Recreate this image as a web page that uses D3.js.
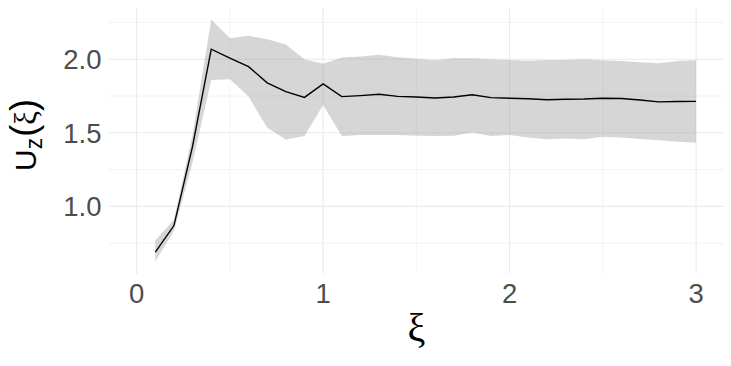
<!DOCTYPE html>
<html><head><meta charset="utf-8">
<script src="https://cdn.jsdelivr.net/npm/d3@7"></script>
<style>body{margin:0;background:#fff;}svg{display:block;}</style>
</head><body><svg id="c" width="731" height="366"></svg>
<script>
const xi    = [0.1,0.2,0.3,0.4,0.5,0.6,0.7,0.8,0.9,1.0,1.1,1.2,1.3,1.4,1.5,1.6,1.7,1.8,1.9,2.0,2.1,2.2,2.3,2.4,2.5,2.6,2.7,2.8,2.9,3.0];
const uz    = [0.69,0.87,1.41,2.068,2.007,1.95,1.84,1.78,1.741,1.832,1.746,1.753,1.762,1.748,1.743,1.737,1.743,1.759,1.739,1.735,1.732,1.725,1.728,1.730,1.735,1.733,1.723,1.710,1.713,1.714];
const upper = [0.77,0.91,1.49,2.27,2.143,2.159,2.136,2.10,2.0,1.97,2.011,2.018,2.03,2.013,2.004,1.993,2.006,2.006,2.0,1.995,1.99,1.995,1.995,2.0,1.993,1.988,1.98,1.973,1.988,1.993];
const lower = [0.625,0.835,1.30,1.859,1.864,1.746,1.535,1.455,1.478,1.689,1.478,1.485,1.485,1.485,1.48,1.478,1.48,1.503,1.478,1.485,1.469,1.456,1.462,1.456,1.474,1.469,1.458,1.449,1.44,1.433];
const xTicks = [0,1,2,3];
const xMinor = [0.5,1.5,2.5];
const yTicks = [1.0,1.5,2.0];
const yMinor = [0.75,1.25,1.75,2.25];

const data = xi.map((x,i)=>({x, y:uz[i], lo:lower[i], hi:upper[i]}));
const svg = d3.select("#c");
const L=108.7, R=724, T=7.4, B=273.7;
const xs = d3.scaleLinear().domain([-0.15,3.15]).range([L,R]);
const ymin = d3.min(lower), ymax = d3.max(upper), pad=(ymax-ymin)*0.05;
const ys = d3.scaleLinear().domain([ymin-pad, ymax+pad]).range([B,T]);

const g = svg.append("g");
g.selectAll(".vmin").data(xMinor).join("line").attr("x1",d=>xs(d)).attr("x2",d=>xs(d)).attr("y1",T).attr("y2",B).attr("stroke","#ebebeb").attr("stroke-width",0.6);
g.selectAll(".hmin").data(yMinor).join("line").attr("y1",d=>ys(d)).attr("y2",d=>ys(d)).attr("x1",L).attr("x2",R).attr("stroke","#ebebeb").attr("stroke-width",0.6);
g.selectAll(".vmaj").data(xTicks).join("line").attr("x1",d=>xs(d)).attr("x2",d=>xs(d)).attr("y1",T).attr("y2",B).attr("stroke","#ebebeb").attr("stroke-width",1.1);
g.selectAll(".hmaj").data(yTicks).join("line").attr("y1",d=>ys(d)).attr("y2",d=>ys(d)).attr("x1",L).attr("x2",R).attr("stroke","#ebebeb").attr("stroke-width",1.1);

svg.append("path").datum(data)
  .attr("d", d3.area().x(d=>xs(d.x)).y0(d=>ys(d.lo)).y1(d=>ys(d.hi)))
  .attr("fill","#999999").attr("fill-opacity",0.4);
svg.append("path").datum(data)
  .attr("d", d3.line().x(d=>xs(d.x)).y(d=>ys(d.y)))
  .attr("fill","none").attr("stroke","#000").attr("stroke-width",1.4);

svg.selectAll(".xt").data(xTicks).join("text").attr("x",d=>xs(d)).attr("y",303)
  .attr("text-anchor","middle").attr("font-family","Liberation Sans, Arial, sans-serif").attr("font-size",27.5).attr("fill","#4d4d4d").text(d=>d3.format("d")(d));
svg.selectAll(".yt").data(yTicks).join("text").attr("x",101.5).attr("y",d=>ys(d)+9.8)
  .attr("text-anchor","end").attr("font-family","Liberation Sans, Arial, sans-serif").attr("font-size",27.5).attr("fill","#4d4d4d").text(d=>d3.format(".1f")(d));

svg.append("text").attr("x",xs(1.5)).attr("y",341).attr("text-anchor","middle")
  .attr("font-family","Liberation Serif, DejaVu Serif, serif").attr("font-size",40).attr("fill","#000").text("ξ");

const yt = svg.append("text").attr("transform",`translate(36,135) rotate(-90)`).attr("text-anchor","middle")
  .attr("font-family","Liberation Sans, Arial, sans-serif").attr("font-size",30).attr("fill","#000");
yt.append("tspan").text("U");
yt.append("tspan").attr("font-size",23).attr("dy",6).text("z");
yt.append("tspan").attr("dy",-6).attr("font-size",36).attr("dx",1).text("(");
yt.append("tspan").attr("font-family","Liberation Serif, DejaVu Serif, serif").attr("font-size",31).text("ξ");
yt.append("tspan").attr("font-size",36).text(")");
</script></body></html>
